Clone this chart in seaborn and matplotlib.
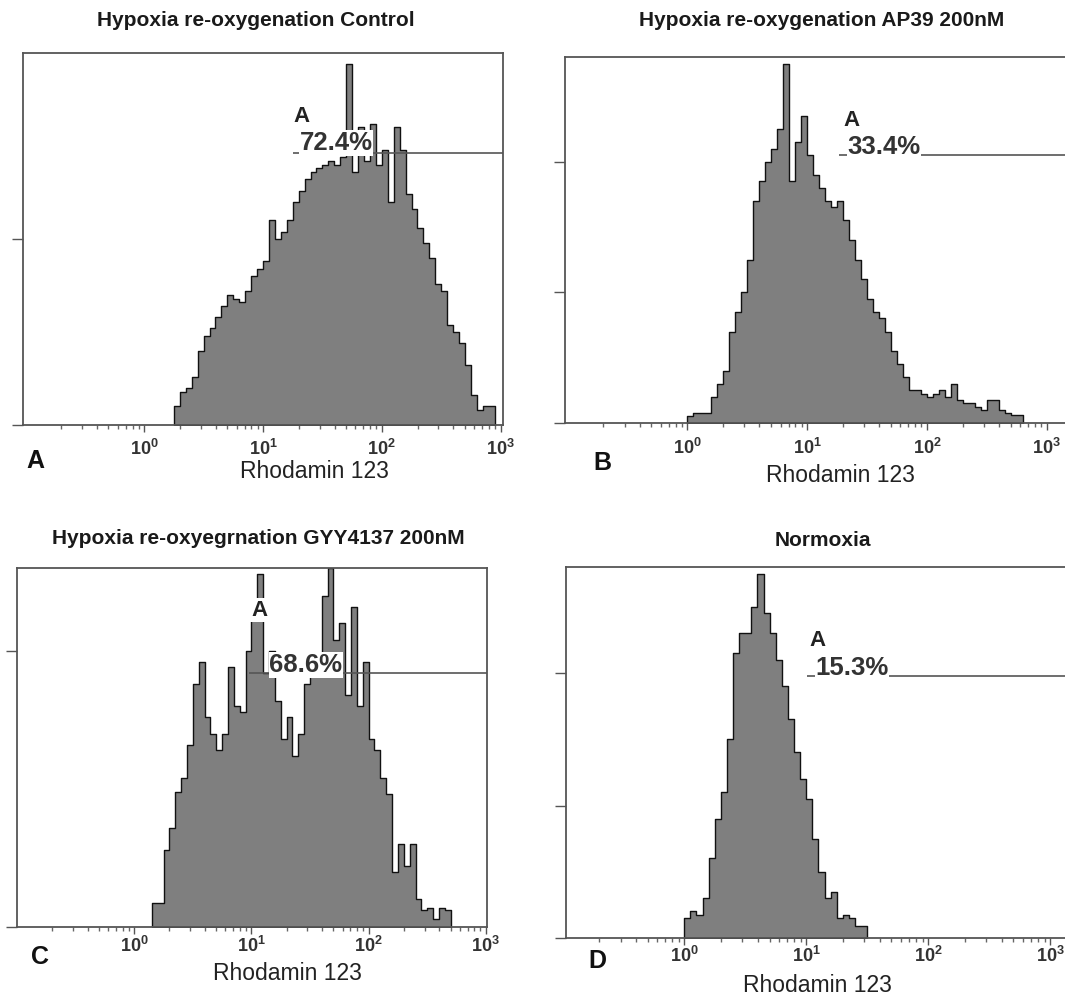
import numpy as np
import matplotlib
matplotlib.use("Agg")
import matplotlib.pyplot as plt
import seaborn as sns
from matplotlib.ticker import FixedLocator, LogLocator, NullFormatter

sns.set_style("white")
plt.rcParams['font.family'] = ['Liberation Sans', 'DejaVu Sans']
plt.rcParams['mathtext.fontset'] = 'custom'
plt.rcParams['mathtext.rm'] = 'Liberation Sans'
plt.rcParams['mathtext.bf'] = 'Liberation Sans:bold'

# ---------------- data ----------------
titles = ["Hypoxia re-oxygenation Control",
          "Hypoxia re-oxygenation AP39 200nM",
          "Hypoxia re-oxyegrnation GYY4137 200nM",
          "Normoxia"]
panel_letters = ["A", "B", "C", "D"]
x_label = "Rhodamin 123"
gate_name = "A"
gate_percent = ["72.4%", "33.4%", "68.6%", "15.3%"]
gate_start = [17.8, 18.6, 9.6, 10.2]        # Rhodamin 123 intensity where gate A begins
gate_level = [73, 41, 46, 39.5]              # height of the gate marker (counts)
x_tick_values = [1, 10, 100, 1000]
x_tick_labels = [r"$\mathbf{10^{0}}$", r"$\mathbf{10^{1}}$",
                 r"$\mathbf{10^{2}}$", r"$\mathbf{10^{3}}$"]
y_max = [100, 56, 65, 56]
y_ticks = [[0, 50], [0, 20, 40], [0, 50], [0, 20, 40]]

bin_width_log = 0.05                         # decade width of a channel bin
log_start = [0.25, 0.0, 0.15, 0.0]           # log10 of first occupied bin

counts_a = [5, 9, 10, 13, 20, 24, 26, 29, 32, 35,
            34, 33, 36, 40, 42, 44, 55, 50, 52, 55,
            60, 63, 66, 68, 69, 70, 71, 70, 72, 97,
            68, 80, 71, 81, 70, 74, 60, 80, 74, 62,
            58, 53, 49, 45, 38, 36, 27, 25, 22, 16,
            8, 4, 5, 5]
counts_b = [1, 1.5, 1.5, 1.5, 4, 6, 8, 14, 17, 20,
            25, 34, 37, 40, 42, 45, 55, 37, 43, 47,
            41, 38, 36, 34, 33, 34, 31, 28, 25, 22,
            19, 17, 16, 14, 11, 9, 7, 5, 5, 4.5,
            4, 4.5, 5, 4, 6, 3.5, 3, 3, 2.5, 2,
            3.5, 3.5, 2, 1.5, 1.3, 1.3]
counts_c = [4.3, 4.3, 14, 18, 24.5, 27, 33, 44, 48, 38,
            35, 32, 35, 47, 40, 39, 50, 58, 64, 46,
            50, 41, 34, 38, 31, 35, 44, 46, 47, 60,
            65, 52, 55, 42, 58, 40, 48, 34, 32, 27,
            24, 10, 15, 11, 15, 5, 3, 3.5, 1.5, 3.5,
            3]
counts_d = [3, 4, 3.5, 6, 12, 18, 22, 30, 43, 46,
            46, 50, 55, 49, 46, 42, 38, 33, 28, 24,
            21, 15, 10, 6, 7, 3, 3.5, 3, 1.8, 1.8]
all_counts = [counts_a, counts_b, counts_c, counts_d]

# ---------------- layout (pixels of the 1065x1000 canvas) ----------------
W, H = 1065, 1000
axes_px = [(23, 53, 503, 425), (565, 57, 1066, 423),
           (17, 568, 487, 927), (566, 567, 1066, 938)]
xlims_log = [(-1.02, 3.02), (-1.02, 3.16), (-1.0, 3.01), (-0.97, 3.13)]
tick_pad = [5.0, 5.5, 1.5, 1.0]
title_px = [(256, 21), (822, 21), (258, 539), (823, 541)]
letter_px = [(35, 461), (602, 463), (40, 957), (597, 961)]
xlabel_px = [(314, 472), (840, 475), (287, 973), (817, 985)]
gateA_px = [(302, 117), (851, 120), (259, 610), (817, 640)]
gatepct_px = [(336, 143), (884, 147), (306, 665), (852, 668)]

def fx(x):
    return x / W

def fy(y):
    return 1 - y / H

fig = plt.figure(figsize=(W / 100, H / 100), dpi=100)
fig.patch.set_facecolor("white")

for i in range(4):
    l, t, r, b = axes_px[i]
    ax = fig.add_axes([fx(l), fy(b), (r - l) / W, (b - t) / H])
    counts = np.asarray(all_counts[i], dtype=float)
    n = len(counts)
    lo = log_start[i]
    centers = 10 ** (lo + bin_width_log * (np.arange(n) + 0.5))
    sns.histplot(x=centers, weights=counts, binwidth=bin_width_log,
                 binrange=(lo, lo + bin_width_log * n - 1e-6), log_scale=True,
                 element="step", fill=True, facecolor="#7f7f7f",
                 edgecolor="#111111", linewidth=1.0, alpha=1, ax=ax, zorder=2)
    ax.set_xlim(10 ** xlims_log[i][0], 10 ** xlims_log[i][1])
    ax.set_ylim(0, y_max[i])
    ax.set_xlabel("")
    ax.set_ylabel("")
    ax.xaxis.set_major_locator(FixedLocator(x_tick_values))
    ax.set_xticklabels(x_tick_labels)
    ax.xaxis.set_minor_locator(LogLocator(base=10, subs=np.arange(2, 10)))
    ax.xaxis.set_minor_formatter(NullFormatter())
    ax.set_yticks(y_ticks[i])
    ax.set_yticklabels([])
    ax.tick_params(axis="x", which="major", direction="out", length=5, width=1,
                   color="#555555", labelsize=13, labelcolor="#333333",
                   pad=tick_pad[i], bottom=True)
    ax.tick_params(axis="x", which="minor", direction="out", length=3, width=1,
                   color="#666666", bottom=True)
    ax.tick_params(axis="y", which="major", direction="out", length=8, width=1,
                   color="#555555", left=True)
    for sp in ax.spines.values():
        sp.set_visible(True)
        sp.set_color("#555555")
        sp.set_linewidth(1.3)
    # gate marker
    ax.hlines(gate_level[i], gate_start[i], 10 ** xlims_log[i][1],
              color="#555555", linewidth=1.2, zorder=4)
    # gate texts
    fig.text(fx(gateA_px[i][0]), fy(gateA_px[i][1]), gate_name, ha="center",
             va="center", fontsize=16, fontweight="bold", color="#222222",
             bbox=dict(facecolor="white", edgecolor="none", pad=1), zorder=5)
    fig.text(fx(gatepct_px[i][0]), fy(gatepct_px[i][1]), gate_percent[i],
             ha="center", va="center", fontsize=18.5, fontweight="bold",
             color="#333333",
             bbox=dict(facecolor="white", edgecolor="none", pad=0.5), zorder=5)
    # titles, letters, axis labels
    fig.text(fx(title_px[i][0]), fy(title_px[i][1]), titles[i], ha="center",
             va="center", fontsize=15, fontweight="bold", color="#1a1a1a")
    fig.text(fx(letter_px[i][0]), fy(letter_px[i][1]), panel_letters[i],
             ha="center", va="center", fontsize=18, fontweight="bold",
             color="#111111")
    fig.text(fx(xlabel_px[i][0]), fy(xlabel_px[i][1]), x_label, ha="center",
             va="center", fontsize=16.5, color="#222222")

fig.savefig("out.png", dpi=100, facecolor="white")
